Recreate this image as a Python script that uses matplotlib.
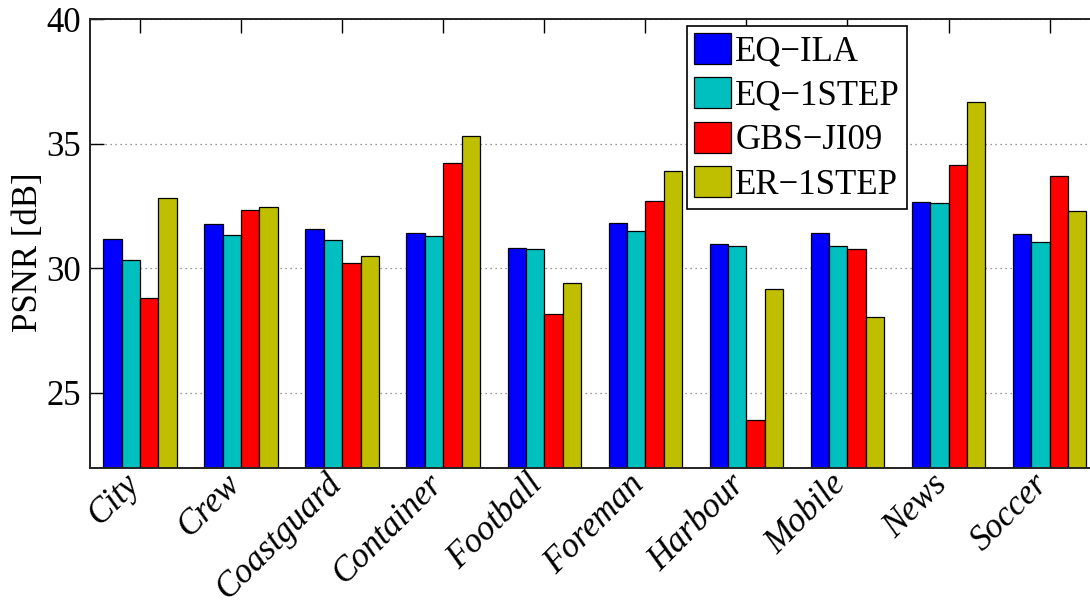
import matplotlib
matplotlib.use("Agg")
import matplotlib.pyplot as plt
import numpy as np

# PSNR per test sequence for the four schemes
sequences = ["City", "Crew", "Coastguard", "Container", "Football",
             "Foreman", "Harbour", "Mobile", "News", "Soccer"]
eq_ila = [31.16, 31.76, 31.56, 31.41, 30.81, 31.80, 30.97, 31.40, 32.64, 31.37]
eq_1step = [30.33, 31.33, 31.12, 31.29, 30.77, 31.50, 30.90, 30.88, 32.63, 31.04]
gbs_ji09 = [28.80, 32.35, 30.20, 34.21, 28.18, 32.70, 23.89, 30.78, 34.16, 33.68]
er_1step = [32.80, 32.44, 30.50, 35.32, 29.41, 33.88, 29.17, 28.04, 36.65, 32.30]

series_labels = ["EQ\u2212ILA", "EQ\u22121STEP", "GBS\u2212JI09", "ER\u22121STEP"]
series_colors = ["#0000FF", "#00BFBF", "#FF0000", "#BFBF00"]
y_ticks = [25, 30, 35, 40]

plt.rcParams["font.family"] = ["Liberation Serif", "DejaVu Serif"]
plt.rcParams["mathtext.fontset"] = "stix"

fig = plt.figure(figsize=(10.9, 6.05), dpi=100)
ax = fig.add_axes([89.5 / 1090, 1 - 467.5 / 605, 1 - 89.5 / 1090, (467.5 - 19) / 605])

x = np.arange(1, len(sequences) + 1)
n = 4
group_w = n / (n + 1.5)
bar_w = group_w / n
all_series = [eq_ila, eq_1step, gbs_ji09, er_1step]
for i, (vals, lab, col) in enumerate(zip(all_series, series_labels, series_colors)):
    offs = -group_w / 2 + bar_w * (i + 0.5)
    ax.bar(x + offs, vals, width=bar_w, color=col, edgecolor="black",
           linewidth=0.9, label=lab, zorder=2)

ax.set_xlim(0.5, 10.4)
ax.set_ylim(22, 40)
ax.set_yticks(y_ticks)
ax.set_xticks(x)
ax.set_xticklabels(sequences, rotation=45, ha="right", va="baseline",
                   rotation_mode="anchor", fontsize=25, style="italic")
for lbl in ax.get_yticklabels():
    lbl.set_fontsize(25)

ax.tick_params(axis="both", direction="in", length=10, width=1,
               top=True, right=False, colors="black")
ax.tick_params(axis="y", pad=6)
ax.tick_params(axis="x", pad=13)

ax.yaxis.grid(True, linestyle=(0, (1, 3)), color="#777777", linewidth=0.9)
ax.set_axisbelow(True)

ax.spines["right"].set_visible(False)
for s in ["left", "top", "bottom"]:
    ax.spines[s].set_linewidth(1.4)
    ax.spines[s].set_color("#222222")

ax.set_ylabel("PSNR [dB]", fontsize=25)
ax.yaxis.set_label_coords(-0.0445, 0.48)

leg = ax.legend(loc="upper left", bbox_to_anchor=(687 / 1090, 1 - 26 / 605),
                bbox_transform=fig.transFigure, borderaxespad=0,
                fontsize=25, handlelength=1.07, handleheight=1.0,
                handletextpad=0.12, labelspacing=0.26, borderpad=0.2,
                fancybox=False, framealpha=1, edgecolor="black")
leg.get_frame().set_linewidth(1.2)

fig.savefig("out.png", dpi=100)
